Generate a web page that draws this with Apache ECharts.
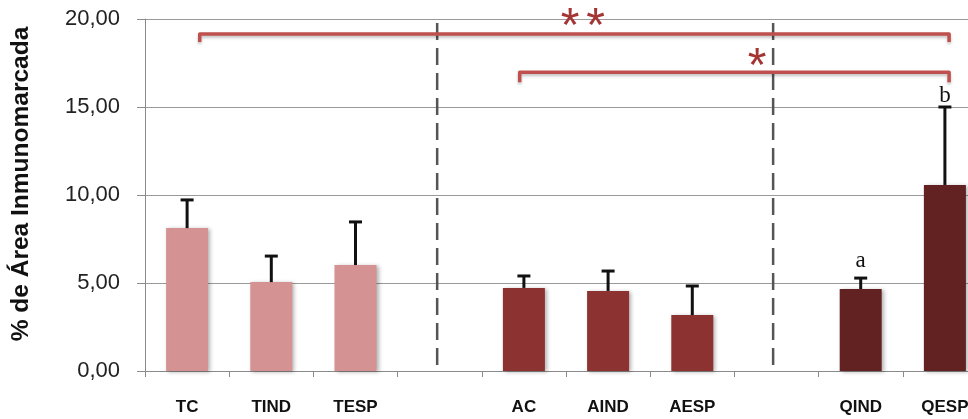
<!DOCTYPE html>
<html><head><meta charset="utf-8">
<script src="https://cdn.jsdelivr.net/npm/echarts@6/dist/echarts.min.js"></script>
<style>html,body{margin:0;padding:0;background:#fff;overflow:hidden;width:968px;height:419px}#c{width:987px;height:419px}</style>
</head><body><div id="c"></div>
<script>
const categories = ['TC','TIND','TESP','','AC','AIND','AESP','','QIND','QESP'];
const means  = [8.12, 5.05, 6.02, null, 4.72, 4.55, 3.18, null, 4.66, 10.57];
const errors = [1.60, 1.48, 2.45, null, 0.68, 1.13, 1.65, null, 0.62, 4.43];
const groups = ['T','T','T',null,'A','A','A',null,'Q','Q'];
const groupColors = {T:'#D49292', A:'#8C3230', Q:'#632222'};
const dividerX = [2.97, 6.96];
const dividerTop = 19.77;
// [xStart, xEnd, yLine, yEnds]
const brackets = [[0.15, 9.05, 19.15, 18.69], [3.95, 9.05, 16.98, 16.41]];
const stars = [[4.55, 20.17], [4.85, 20.17], [6.77, 17.89]];
const letters = [[8, 'a', 5.87], [9, 'b', 15.27]];

const chart = echarts.init(document.getElementById('c'));
const barData = means.map((v, i) => v == null ? null : {value: v, itemStyle: {color: groupColors[groups[i]]}});
const errData = means.map((v, i) => v == null ? null : [i, v, v + errors[i]]).filter(d => d);

chart.setOption({
  animation: false,
  grid: {left: 145, right: 0, top: 19, bottom: 48, containLabel: false},
  xAxis: [{
    type: 'category', data: categories,
    axisLine: {lineStyle: {color: '#8a8a8a', width: 1}},
    axisTick: {show: true, length: 6, lineStyle: {color: '#8a8a8a'}},
    axisLabel: {color: '#111', fontSize: 17, fontWeight: 'bold', fontFamily: '"Liberation Sans", sans-serif', margin: 28}
  }, {
    type: 'value', min: -0.5, max: 9.5, show: false
  }],
  yAxis: {
    type: 'value', min: 0, max: 20, interval: 5,
    name: '% de Área Inmunomarcada', nameLocation: 'middle', nameGap: 111, nameRotate: 90,
    nameTextStyle: {fontSize: 24.5, fontWeight: 'bold', color: '#111', fontFamily: '"Liberation Sans", sans-serif', padding: [0, 0, 0, 22]},
    axisLine: {show: true, onZero: false, lineStyle: {color: '#8a8a8a'}},
    axisTick: {show: true, length: 8, lineStyle: {color: '#8a8a8a'}},
    splitLine: {lineStyle: {color: '#9a9a9a', width: 1}},
    axisLabel: {color: '#222', fontSize: 22, margin: 25, fontFamily: '"Liberation Sans", sans-serif',
      formatter: v => v.toFixed(2).replace('.', ',')}
  },
  series: [{
    type: 'bar', data: barData, barWidth: 42,
    itemStyle: {shadowBlur: 4, shadowOffsetX: 2, shadowOffsetY: 1, shadowColor: 'rgba(0,0,0,0.3)'}
  }, {
    type: 'custom', data: errData, z: 5,
    renderItem: (params, api) => {
      const b = api.coord([api.value(0), api.value(1)]);
      const t = api.coord([api.value(0), api.value(2)]);
      return {type: 'group', children: [
        {type: 'line', shape: {x1: b[0], y1: b[1], x2: t[0], y2: t[1]}, style: {stroke: '#111', lineWidth: 3}},
        {type: 'line', shape: {x1: t[0] - 6.5, y1: t[1], x2: t[0] + 6.5, y2: t[1]}, style: {stroke: '#111', lineWidth: 3}}
      ]};
    }
  }, {
    type: 'custom', data: letters, z: 6, clip: false,
    renderItem: (params, api) => {
      const p = api.coord([api.value(0), api.value(2)]);
      return {type: 'text', x: p[0], y: p[1] + 5, style: {text: letters[params.dataIndex][1], fontSize: 23,
        fontFamily: '"Liberation Serif", serif', fill: '#111', align: 'center', verticalAlign: 'bottom'}};
    }
  }, {
    type: 'custom', xAxisIndex: 1, data: dividerX.map(x => [x, dividerTop]), z: 4, clip: false,
    renderItem: (params, api) => {
      const t = api.coord([api.value(0), api.value(1)]);
      const b = api.coord([api.value(0), 0]);
      return {type: 'line', shape: {x1: t[0], y1: t[1], x2: b[0], y2: b[1]},
        style: {stroke: '#555', lineWidth: 2.5, lineDash: [17, 8]}};
    }
  }, {
    type: 'custom', xAxisIndex: 1, data: brackets, z: 7, clip: false,
    renderItem: (params, api) => {
      const a = api.coord([api.value(0), api.value(3)]);
      const b = api.coord([api.value(0), api.value(2)]);
      const c = api.coord([api.value(1), api.value(2)]);
      const d = api.coord([api.value(1), api.value(3)]);
      return {type: 'polyline', shape: {points: [a, b, c, d]},
        style: {stroke: '#C0504D', lineWidth: 3.5, lineJoin: 'round', fill: null,
          shadowBlur: 3, shadowOffsetY: 2, shadowColor: 'rgba(0,0,0,0.25)'}};
    }
  }, {
    type: 'custom', xAxisIndex: 1, data: stars, z: 8, clip: false,
    renderItem: (params, api) => {
      const p = api.coord([api.value(0), api.value(1)]);
      return {type: 'text', x: p[0], y: p[1] + 12, style: {text: '*', fontSize: 48,
        fontFamily: '"Liberation Sans", sans-serif', fill: '#A33634', align: 'center', verticalAlign: 'middle'}};
    }
  }]
});
</script></body></html>
